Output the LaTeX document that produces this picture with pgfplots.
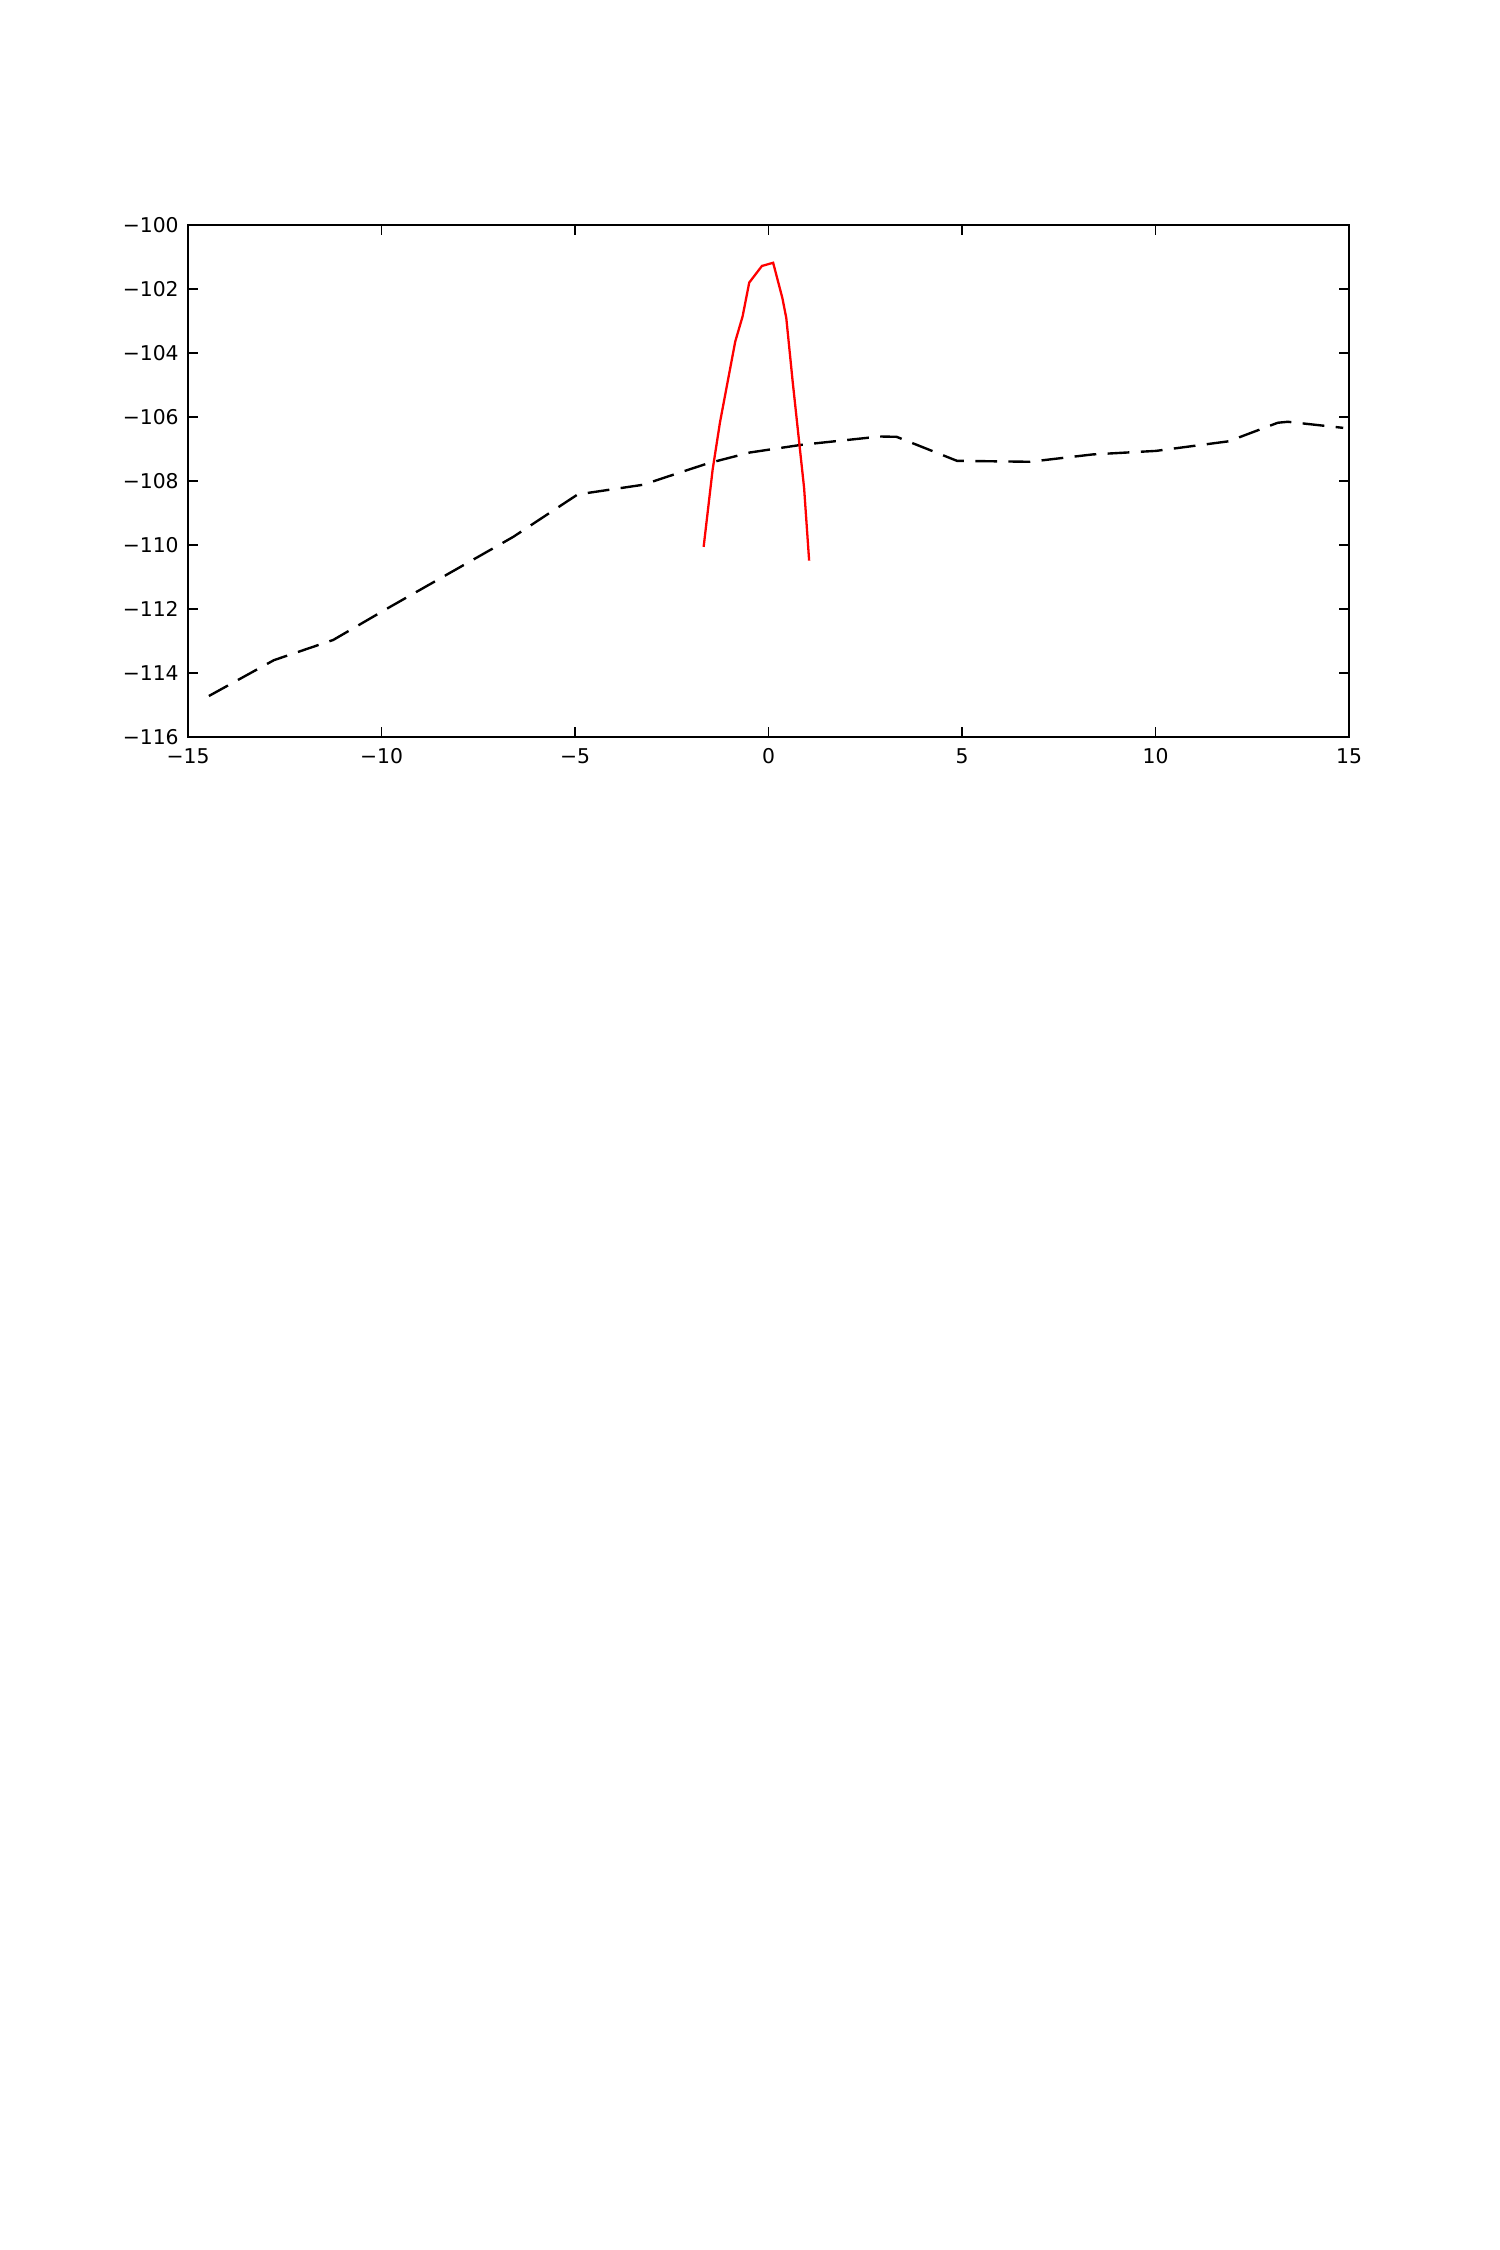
\documentclass[border=0pt]{standalone}
\usepackage{fontspec}
\setmainfont{DejaVu Sans}
\usepackage{pgfplots}
\pgfplotsset{compat=1.18}
\begin{document}
\begin{tikzpicture}
\path (0,0) rectangle (10in,-15in);
\begin{axis}[
  at={(1.2533in,-1.5in)}, anchor=north west,
  scale only axis, width=7.74in, height=3.413in,
  xmin=-15, xmax=15, ymin=-116, ymax=-100,
  xtick={-15,-10,-5,0,5,10,15},
  xticklabels={−15,−10,−5,0,5,10,15},
  ytick={-116,-114,-112,-110,-108,-106,-104,-102,-100},
  yticklabels={−116,−114,−112,−110,−108,−106,−104,−102,−100},
  xtick pos=both, ytick pos=both,
  tick align=inside, major tick length=4.6pt,
  tick style={line width=0.6pt, black},
  axis line style={line width=1pt},
  ticklabel style={font=\fontsize{9.8}{11}\selectfont},
  yticklabel style={inner sep=0pt, anchor=east, xshift=-4.3pt},
  xticklabel style={inner sep=0pt, anchor=north, yshift=-5.3pt},
  /pgf/number format/assume math mode=true,
]
\addplot[black, line width=1.15pt, dash pattern=on 10.5pt off 5.5pt] coordinates {
(-14.46,-114.72) (-12.78,-113.60) (-11.25,-112.97) (-9.8,-111.95) (-8.2,-110.85)
(-6.6,-109.75) (-4.93,-108.42) (-3.25,-108.12) (-1.57,-107.45) (-0.48,-107.11)
(0.85,-106.87) (2.88,-106.61) (3.31,-106.62) (4.87,-107.37) (6.75,-107.40)
(8.38,-107.17) (10.01,-107.06) (11.89,-106.76) (13.16,-106.18) (13.42,-106.15)
(14.85,-106.34)
};
\addplot[red, line width=1.1pt] coordinates {
(-1.676,-110.06) (-1.444,-107.65) (-1.254,-106.17) (-0.859,-103.64) (-0.670,-102.86)
(-0.498,-101.80) (-0.17,-101.28) (0.12,-101.18) (0.36,-102.29) (0.46,-102.91)
(0.62,-104.84) (0.92,-108.22) (1.05,-110.49)
};
\end{axis}
\end{tikzpicture}
\end{document}
